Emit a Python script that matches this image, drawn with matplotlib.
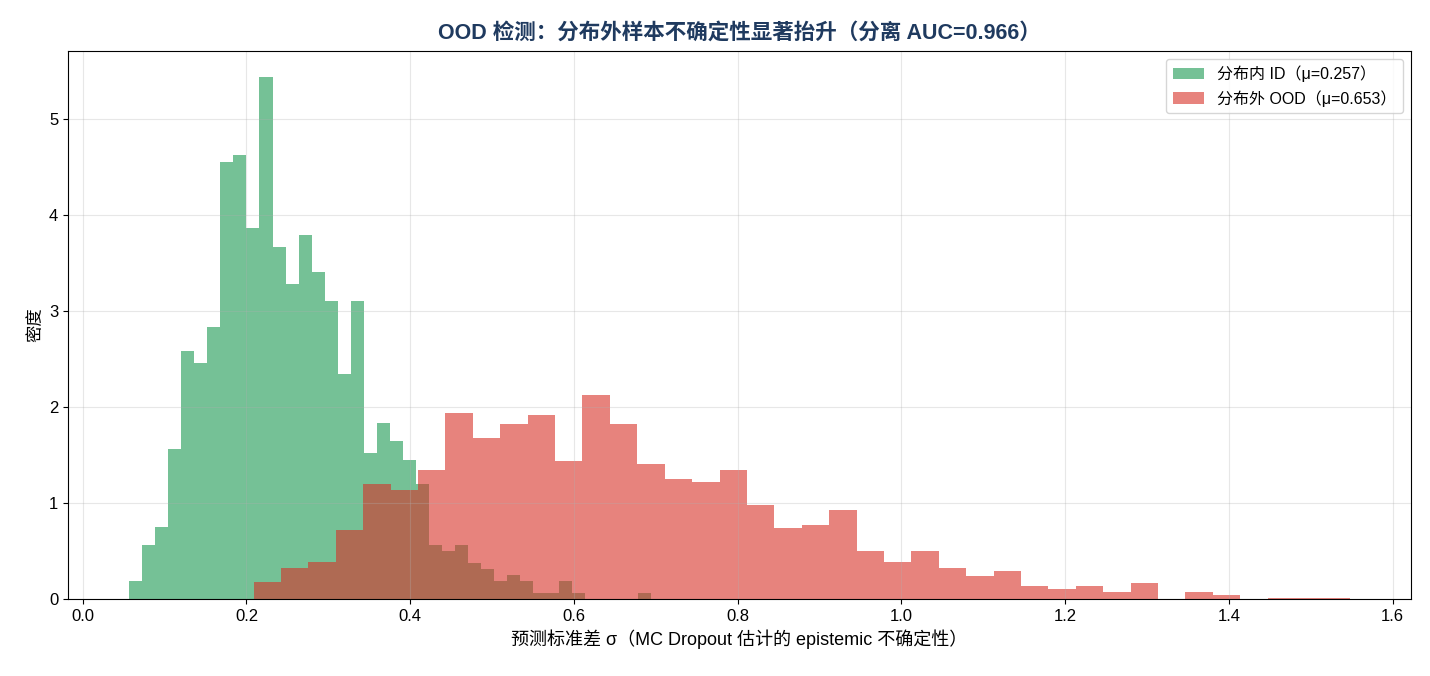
import numpy as np
import matplotlib
matplotlib.use('Agg')
import matplotlib.pyplot as plt

plt.rcParams['font.family'] = ['Liberation Sans', 'Noto Sans CJK SC', 'DejaVu Sans']
plt.rcParams['axes.unicode_minus'] = False

# in-distribution sigma histogram (density), 40 bins
id_range = (0.0566, 0.6936)
id_density = [0.1875, 0.5625, 0.75, 1.5625, 2.5875, 2.4625, 2.8375, 4.55, 4.625, 3.86,
              5.4375, 3.67, 3.28, 3.79, 3.41, 3.10, 2.34, 3.10, 1.52, 1.83,
              1.645, 1.45, 1.195, 0.5625, 0.50, 0.5625, 0.375, 0.3125, 0.1875, 0.25,
              0.1875, 0.0625, 0.0625, 0.1875, 0.0625, 0.0, 0.0, 0.0, 0.0, 0.0625]

# out-of-distribution sigma histogram (density), 40 bins
ood_range = (0.2086, 1.548)
ood_density = [0.179, 0.323, 0.385, 0.719, 1.194, 1.139, 1.344, 1.9375, 1.677, 1.823,
               1.917, 1.4375, 2.125, 1.823, 1.406, 1.25, 1.219, 1.344, 0.979, 0.740,
               0.771, 0.927, 0.50, 0.385, 0.50, 0.323, 0.240, 0.29, 0.139, 0.108,
               0.139, 0.076, 0.170, 0.0, 0.076, 0.045, 0.0, 0.015, 0.015, 0.015]

id_mean = 0.257
ood_mean = 0.653
auc = 0.966

id_edges = np.linspace(id_range[0], id_range[1], len(id_density) + 1)
ood_edges = np.linspace(ood_range[0], ood_range[1], len(ood_density) + 1)

fig = plt.figure(figsize=(14.3, 6.76), dpi=100)
ax = fig.add_axes([0.0476, 0.1139, 0.9391, 0.8107])

ax.hist((id_edges[:-1] + id_edges[1:]) / 2, bins=id_edges, weights=id_density,
        color='#1a9850', alpha=0.6, label=f'分布内 ID（μ={id_mean:.3f}）')
ax.hist((ood_edges[:-1] + ood_edges[1:]) / 2, bins=ood_edges, weights=ood_density,
        color='#d73027', alpha=0.6, label=f'分布外 OOD（μ={ood_mean:.3f}）')

ax.set_title(f'OOD 检测：分布外样本不确定性显著抬升（分离 AUC={auc:.3f}）',
             fontsize=15.5, fontweight='bold', color='#1f3a5f', pad=9)
ax.set_xlabel('预测标准差 σ（MC Dropout 估计的 epistemic 不确定性）', fontsize=13)
ax.set_ylabel('密度', fontsize=12.5)
ax.tick_params(labelsize=12)
ax.grid(alpha=0.3)
ax.legend(loc='upper right', fontsize=11.5)

fig.savefig('out.png', dpi=100)
